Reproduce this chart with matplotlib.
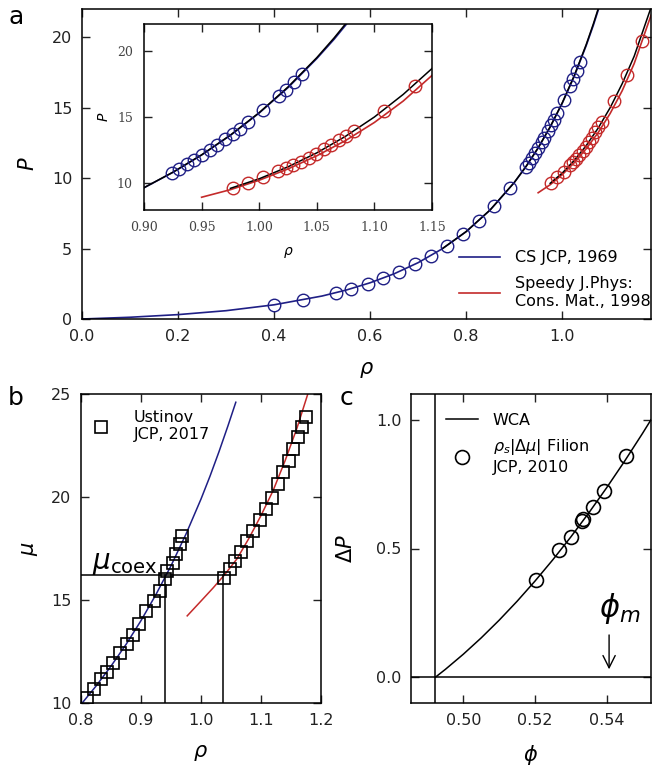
import numpy as np
import matplotlib
matplotlib.use('Agg')
import matplotlib.pyplot as plt

#%% DATA
# ----------------------
# panel a: pressure vs density (liquid branch, CS)
rho_cs_line = [0.0, 0.1, 0.2, 0.3, 0.4, 0.5, 0.55, 0.6, 0.65, 0.7, 0.75, 0.8, 0.85, 0.9,
               0.925, 0.95, 0.975, 1.0, 1.025, 1.05, 1.065, 1.08]
p_cs_line = [0.0, 0.124, 0.311, 0.590, 1.007, 1.631, 2.052, 2.570, 3.208, 3.997, 4.977, 6.200,
             7.734, 9.672, 10.83, 12.14, 13.62, 15.30, 17.21, 19.40, 20.85, 22.44]
rho_fit_liq = [0.75, 0.8, 0.85, 0.9, 0.925, 0.95, 0.975, 1.0, 1.025, 1.05, 1.065, 1.08]
p_fit_liq = [4.98, 6.20, 7.74, 9.68, 10.84, 12.15, 13.64, 15.33, 17.26, 19.47, 20.95, 22.55]
rho_cs_pts = [0.40, 0.46, 0.53, 0.56, 0.595, 0.627, 0.66, 0.693, 0.726, 0.76, 0.793, 0.826,
              0.859, 0.892, 0.924, 0.930, 0.937, 0.943, 0.950, 0.957, 0.963, 0.970, 0.977,
              0.983, 0.990, 1.003, 1.017, 1.023, 1.030, 1.037]
p_cs_pts = [1.01, 1.35, 1.87, 2.15, 2.51, 2.90, 3.35, 3.88, 4.48, 5.20, 6.01, 6.95, 8.05, 9.33,
            10.78, 11.08, 11.44, 11.75, 12.14, 12.53, 12.88, 13.31, 13.74, 14.13, 14.60,
            15.52, 16.57, 17.05, 17.63, 18.23]
# solid branch (Speedy)
rho_sp_line = [0.95, 0.975, 1.0, 1.025, 1.05, 1.075, 1.1, 1.125, 1.15, 1.185]
p_sp_line = [8.96, 9.53, 10.24, 11.09, 12.08, 13.23, 14.59, 16.20, 18.13, 21.55]
rho_fit_sol = [0.975, 1.0, 1.025, 1.05, 1.075, 1.1, 1.125, 1.15, 1.185]
p_fit_sol = [9.63, 10.35, 11.25, 12.30, 13.55, 15.00, 16.70, 18.65, 22.10]
rho_sp_pts = [0.977, 0.990, 1.003, 1.016, 1.023, 1.029, 1.036, 1.043, 1.049, 1.056, 1.062,
              1.069, 1.075, 1.082, 1.108, 1.135, 1.166]
p_sp_pts = [9.67, 10.05, 10.45, 10.93, 11.16, 11.36, 11.63, 11.93, 12.20, 12.56, 12.86,
            13.25, 13.60, 13.95, 15.45, 17.35, 19.70]

# panel b: chemical potential vs density
rho_mu_liq = [0.8, 0.825, 0.85, 0.875, 0.9, 0.925, 0.95, 0.975, 1.0, 1.015, 1.03, 1.045, 1.058]
mu_liq = [9.93, 10.82, 11.79, 12.84, 14.00, 15.27, 16.66, 18.20, 19.90, 21.01, 22.20, 23.46, 24.60]
rho_mu_sol = [0.977, 1.0, 1.02, 1.04, 1.06, 1.08, 1.1, 1.12, 1.14, 1.16, 1.178]
mu_sol = [14.23, 14.95, 15.58, 16.25, 17.00, 18.00, 19.10, 20.30, 21.75, 23.35, 25.00]
rho_ust_liq = [0.8106, 0.822, 0.833, 0.844, 0.854, 0.865, 0.876, 0.886, 0.897, 0.909, 0.922,
               0.931, 0.940, 0.944, 0.953, 0.958, 0.965, 0.969]
mu_ust_liq = [10.24, 10.70, 11.16, 11.52, 11.94, 12.42, 12.86, 13.31, 13.83, 14.48, 14.93,
              15.43, 16.01, 16.43, 16.82, 17.22, 17.71, 18.11]
rho_ust_sol = [1.039, 1.048, 1.057, 1.066, 1.077, 1.087, 1.099, 1.109, 1.119, 1.129, 1.137,
               1.147, 1.154, 1.161, 1.168, 1.175]
mu_ust_sol = [16.09, 16.51, 16.90, 17.35, 17.84, 18.36, 18.89, 19.42, 19.96, 20.62, 21.22,
              21.75, 22.35, 22.91, 23.40, 23.87]
mu_coex = 16.22
rho_coex = [0.940, 1.036]

# panel c: pressure difference vs packing fraction
phi_wca = [0.4922, 0.495, 0.50, 0.505, 0.51, 0.515, 0.52, 0.525, 0.53, 0.535, 0.54, 0.545,
           0.55, 0.5524]
dp_wca = [0.0, 0.0307, 0.0894, 0.1529, 0.2214, 0.2948, 0.3732, 0.4564, 0.5445, 0.6376,
          0.7356, 0.8385, 0.9463, 1.0]
phi_filion = [0.5202, 0.5267, 0.5300, 0.5332, 0.5335, 0.5361, 0.5393, 0.5454]
dp_filion = [0.3765, 0.4955, 0.543, 0.607, 0.614, 0.660, 0.722, 0.860]
phi_freeze = 0.4922
phi_melt = 0.5407
# ----------------------

#%% STYLE
# ----------------------
plt.rcParams['font.family'] = ['DejaVu Sans']
plt.rcParams['mathtext.fontset'] = 'dejavusans'
blue = '#1f1f85'
red = '#c42a2a'
fs = 11.5

def style(ax, size=fs, pad=7):
    ax.tick_params(direction='in', top=True, right=True, length=6, width=1,
                   labelsize=size, pad=pad, colors='#222222')
    for s in ax.spines.values():
        s.set_linewidth(1.1)

fig = plt.figure(figsize=(6.72, 7.67), dpi=100)

#%% PANEL A
# ----------------------
ax = fig.add_axes([82/672, 1-319/767, (651-82)/672, (319-9)/767])
ax.plot(rho_cs_line, p_cs_line, color=blue, lw=1.2, label='CS JCP, 1969')
ax.plot(rho_sp_line, p_sp_line, color=red, lw=1.2, label='Speedy J.Phys:\nCons. Mat., 1998')
ax.plot(rho_fit_liq, p_fit_liq, color='k', lw=1.1)
ax.plot(rho_fit_sol, p_fit_sol, color='k', lw=1.1)
ax.plot(rho_cs_pts, p_cs_pts, 'o', mfc='none', mec=blue, ms=9, mew=1)
ax.plot(rho_sp_pts, p_sp_pts, 'o', mfc='none', mec=red, ms=9, mew=1)
ax.set_xlim(0, 1.185)
ax.set_ylim(0, 22)
ax.set_xticks([0.0, 0.2, 0.4, 0.6, 0.8, 1.0])
ax.set_yticks([0, 5, 10, 15, 20])
style(ax)
ax.set_xlabel(r'$\rho$', fontsize=15, labelpad=12)
ax.set_ylabel(r'$P$', fontsize=15, labelpad=10)
ax.legend(loc='lower right', bbox_to_anchor=(1.01, 0.012), frameon=False, fontsize=fs,
          handlelength=2.6, handletextpad=0.9, borderaxespad=0, labelspacing=0.7)
fig.text(8/672, 1-24/767, 'a', fontsize=18)

# inset
ins = fig.add_axes([144/672, 1-210/767, (432-144)/672, (210-24)/767])
ins.plot(rho_cs_line, p_cs_line, color=blue, lw=1.2)
ins.plot(rho_sp_line, p_sp_line, color=red, lw=1.2)
ins.plot(rho_fit_liq, p_fit_liq, color='k', lw=1.1)
ins.plot(rho_fit_sol, p_fit_sol, color='k', lw=1.1)
ins.plot(rho_cs_pts, p_cs_pts, 'o', mfc='none', mec=blue, ms=9, mew=1)
ins.plot(rho_sp_pts, p_sp_pts, 'o', mfc='none', mec=red, ms=9, mew=1)
ins.set_xlim(0.90, 1.15)
ins.set_ylim(8, 22)
ins.set_xticks([0.90, 0.95, 1.00, 1.05, 1.10, 1.15])
ins.set_yticks([10, 15, 20])
style(ins, size=9, pad=8)
for t in ins.get_xticklabels() + ins.get_yticklabels():
    t.set_family('DejaVu Serif')
    t.set_color('#444444')
ins.set_xlabel(r'$\rho$', fontsize=10, labelpad=8)
ins.set_ylabel(r'$P$', fontsize=10, labelpad=4)

#%% PANEL B
# ----------------------
bx = fig.add_axes([81/672, 1-703/767, (321-81)/672, (703-394)/767])
bx.plot(rho_mu_liq, mu_liq, color=blue, lw=1.1)
bx.plot(rho_mu_sol, mu_sol, color=red, lw=1.1)
bx.plot([0.8, rho_coex[1]], [mu_coex, mu_coex], color='k', lw=1.1)
bx.plot([rho_coex[0], rho_coex[0]], [10, mu_coex], color='k', lw=1.1)
bx.plot([rho_coex[1], rho_coex[1]], [10, mu_coex], color='k', lw=1.1)
bx.plot(rho_ust_liq + rho_ust_sol, mu_ust_liq + mu_ust_sol, 's', mfc='none', mec='k',
        ms=8.5, mew=1.2, label='Ustinov\nJCP, 2017')
bx.text(0.818, 16.5, r'$\mu_{\mathrm{coex}}$', fontsize=20)
bx.set_xlim(0.8, 1.2)
bx.set_ylim(10, 25)
bx.set_xticks([0.8, 0.9, 1.0, 1.1, 1.2])
bx.set_yticks([10, 15, 20, 25])
style(bx)
bx.set_xlabel(r'$\rho$', fontsize=15, labelpad=11)
bx.set_ylabel(r'$\mu$', fontsize=15, labelpad=8)
bx.legend(loc='upper left', frameon=False, fontsize=fs, handlelength=1.2,
          handletextpad=1.5, borderaxespad=0.6, bbox_to_anchor=(-0.025, 1.0))
fig.text(8/672, 1-405/767, 'b', fontsize=18)

#%% PANEL C
# ----------------------
cx = fig.add_axes([411/672, 1-703/767, (651-411)/672, (703-394)/767])
cx.plot(phi_wca, dp_wca, color='k', lw=1.1, label='WCA')
cx.plot(phi_filion, dp_filion, 'o', mfc='none', mec='k', ms=10, mew=1.2,
        label='$\\rho_s|\\Delta\\mu|$ Filion\nJCP, 2010')
cx.axvline(phi_freeze, color='k', lw=1.1)
cx.axhline(0.0, color='k', lw=1.1)
cx.annotate('', xy=(phi_melt, 0.02), xytext=(phi_melt, 0.175),
            arrowprops=dict(arrowstyle='->', color='k', lw=1.0, mutation_scale=22))
cx.text(phi_melt + 0.003, 0.2, r'$\phi_m$', fontsize=22, ha='center', va='bottom')
cx.set_xlim(0.4854, 0.5524)
cx.set_ylim(-0.1, 1.1)
cx.set_xticks([0.50, 0.52, 0.54])
cx.set_yticks([0.0, 0.5, 1.0])
cx.xaxis.set_major_formatter(matplotlib.ticker.FormatStrFormatter('%.2f'))
cx.yaxis.set_major_formatter(matplotlib.ticker.FormatStrFormatter('%.1f'))
style(cx)
cx.set_xlabel(r'$\phi$', fontsize=15, labelpad=11)
cx.set_ylabel(r'$\Delta P$', fontsize=15, labelpad=14)
cx.legend(loc='upper left', frameon=False, fontsize=fs, handlelength=2.0,
          handletextpad=0.9, borderaxespad=0.3, labelspacing=0.6, bbox_to_anchor=(0.10, 0.975))
fig.text(340/672, 1-405/767, 'c', fontsize=18)

fig.savefig('out.png', dpi=100)
